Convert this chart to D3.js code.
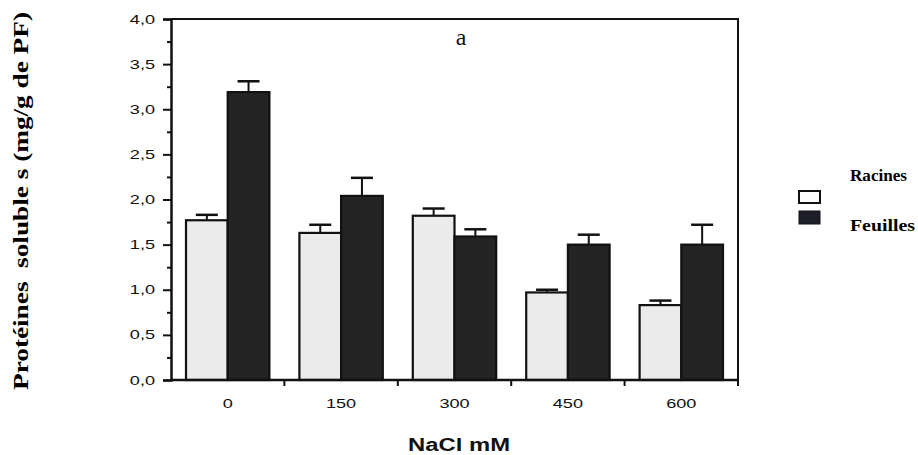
<!DOCTYPE html>
<html>
<head>
<meta charset="utf-8">
<script src="https://cdn.jsdelivr.net/npm/d3@7"></script>
<style>
  html, body { margin: 0; padding: 0; background: #ffffff; }
  svg { display: block; }
</style>
</head>
<body>
<script>
// NaCl concentrations (mM)
const categories = ["0", "150", "300", "450", "600"];
// Soluble proteins, mg/g FW
const racines = [1.77, 1.63, 1.82, 0.97, 0.83];
const racinesErr = [0.06, 0.09, 0.08, 0.03, 0.05];
const feuilles = [3.19, 2.04, 1.59, 1.50, 1.50];
const feuillesErr = [0.12, 0.20, 0.08, 0.11, 0.22];
const seriesNames = ["Racines", "Feuilles"];
const yMajorTicks = [0, 0.5, 1, 1.5, 2, 2.5, 3, 3.5, 4];
const yMinorTicks = [0.25, 0.75, 1.25, 1.75, 2.25, 2.75, 3.25, 3.75];

const W = 918, H = 455;
const plotLeft = 171, plotRight = 738, plotTop = 19, plotBottom = 380;
const labelStretch = 1.45;

const svg = d3.select("body").append("svg")
  .attr("width", W).attr("height", H);

const x0 = d3.scaleBand().domain(categories).range([plotLeft, plotRight]).padding(0);
const x1 = d3.scaleBand().domain(seriesNames)
  .range([15, x0.bandwidth() - 15]).padding(0);
const y = d3.scaleLinear().domain([0, 4]).range([plotBottom, plotTop]);

const fr = d3.formatLocale({ decimal: ",", thousands: ".", grouping: [3], currency: ["", "€"] });
const fmt = fr.format(".1f");

const fills = { Racines: "#ebebeb", Feuilles: "#242424" };

const rows = categories.map((c, i) => ({
  cat: c,
  vals: [
    { key: "Racines", v: racines[i], e: racinesErr[i] },
    { key: "Feuilles", v: feuilles[i], e: feuillesErr[i] }
  ]
}));

// Bars
const g = svg.append("g");
const groups = g.selectAll("g.grp").data(rows).join("g")
  .attr("class", "grp")
  .attr("transform", d => `translate(${x0(d.cat)},0)`);

// Error bars (upper only)
groups.selectAll("line.stem").data(d => d.vals).join("line")
  .attr("class", "stem")
  .attr("x1", d => x1(d.key) + x1.bandwidth() / 2)
  .attr("x2", d => x1(d.key) + x1.bandwidth() / 2)
  .attr("y1", d => y(d.v))
  .attr("y2", d => y(d.v + d.e))
  .attr("stroke", "#111").attr("stroke-width", 2);
groups.selectAll("line.cap").data(d => d.vals).join("line")
  .attr("class", "cap")
  .attr("x1", d => x1(d.key) + x1.bandwidth() / 2 - 11)
  .attr("x2", d => x1(d.key) + x1.bandwidth() / 2 + 11)
  .attr("y1", d => y(d.v + d.e))
  .attr("y2", d => y(d.v + d.e))
  .attr("stroke", "#111").attr("stroke-width", 2.5);

groups.selectAll("rect").data(d => d.vals).join("rect")
  .attr("x", d => x1(d.key))
  .attr("y", d => y(d.v))
  .attr("width", x1.bandwidth())
  .attr("height", d => y(0) - y(d.v))
  .attr("fill", d => fills[d.key])
  .attr("stroke", "#111")
  .attr("stroke-width", 2.2);

// Frame (top and right)
svg.append("path")
  .attr("d", `M${plotLeft},${plotTop}H${plotRight}V${plotBottom + 6}`)
  .attr("fill", "none").attr("stroke", "#111").attr("stroke-width", 2);

// Y axis
const yAxis = svg.append("g").attr("transform", `translate(${plotLeft},0)`)
  .call(d3.axisLeft(y).tickValues(yMajorTicks).tickSize(8).tickPadding(8).tickFormat(fmt));
svg.append("g").attr("transform", `translate(${plotLeft},0)`)
  .call(d3.axisLeft(y).tickValues(yMinorTicks).tickSize(4).tickFormat(""))
  .call(a => a.select(".domain").remove());
svg.selectAll(".domain").attr("stroke", "#111").attr("stroke-width", 2.5);
svg.selectAll(".tick line").attr("stroke", "#111").attr("stroke-width", 2);
yAxis.selectAll(".tick text")
  .attr("font-family", "Arial, 'Liberation Sans', sans-serif")
  .attr("font-size", 12.5).attr("fill", "#111")
  .attr("x", -16 / labelStretch)
  .attr("transform", `scale(${labelStretch},1)`);

// X axis: ticks at group boundaries, labels centred in groups
const xAxisG = svg.append("g").attr("transform", `translate(0,${plotBottom})`);
xAxisG.append("line")
  .attr("x1", plotLeft).attr("x2", plotRight).attr("y1", 0).attr("y2", 0)
  .attr("stroke", "#111").attr("stroke-width", 2.5);
xAxisG.selectAll("line.bt").data(categories.slice(1)).join("line")
  .attr("class", "bt")
  .attr("x1", d => x0(d)).attr("x2", d => x0(d))
  .attr("y1", 0).attr("y2", 6)
  .attr("stroke", "#111").attr("stroke-width", 2);
xAxisG.selectAll("text").data(categories).join("text")
  .attr("x", d => (x0(d) + x0.bandwidth() / 2) / labelStretch)
  .attr("y", 28)
  .attr("transform", `scale(${labelStretch},1)`)
  .attr("text-anchor", "middle")
  .attr("font-family", "Arial, 'Liberation Sans', sans-serif")
  .attr("font-size", 12.5).attr("fill", "#111")
  .text(d => d);

// Axis titles
svg.append("text")
  .attr("x", 459).attr("y", 451)
  .attr("text-anchor", "middle")
  .attr("font-family", "Arial, 'Liberation Sans', sans-serif")
  .attr("font-weight", "bold").attr("font-size", 18).attr("fill", "#111")
  .attr("textLength", 102).attr("lengthAdjust", "spacingAndGlyphs")
  .text("NaCl mM");

svg.append("text")
  .attr("transform", "translate(28,201) rotate(-90)")
  .attr("text-anchor", "middle")
  .attr("font-family", "'Liberation Serif', 'Times New Roman', serif")
  .attr("font-weight", "bold").attr("font-size", 21).attr("fill", "#000")
  .attr("textLength", 378).attr("lengthAdjust", "spacingAndGlyphs")
  .style("white-space", "pre")
  .text("Protéines  soluble s (mg/g de PF)");

// Panel letter
svg.append("text")
  .attr("x", 461).attr("y", 45)
  .attr("text-anchor", "middle")
  .attr("font-family", "'Liberation Serif', 'Times New Roman', serif")
  .attr("font-size", 24).attr("fill", "#111")
  .text("a");

// Legend
const legend = svg.append("g");
legend.append("rect").attr("x", 799).attr("y", 191).attr("width", 21).attr("height", 12)
  .attr("fill", "#ffffff").attr("stroke", "#111").attr("stroke-width", 2);
legend.append("rect").attr("x", 799).attr("y", 211).attr("width", 21).attr("height", 13)
  .attr("fill", "#1e1e28").attr("stroke", "#111").attr("stroke-width", 1);
legend.selectAll("text").data([["Racines", 181, 57], ["Feuilles", 231, 65]]).join("text")
  .attr("x", 850).attr("y", d => d[1])
  .attr("font-family", "'Liberation Serif', 'Times New Roman', serif")
  .attr("font-weight", "bold").attr("font-size", 16).attr("fill", "#000")
  .attr("textLength", d => d[2]).attr("lengthAdjust", "spacingAndGlyphs")
  .text(d => d[0]);
</script>
</body>
</html>
